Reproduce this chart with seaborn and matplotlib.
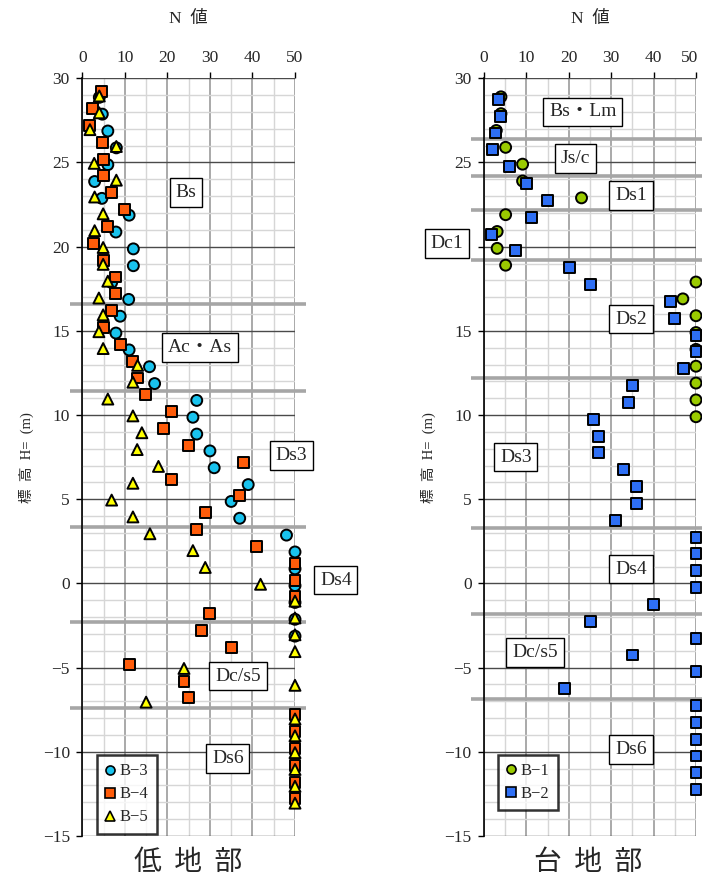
import matplotlib
matplotlib.use("Agg")
import matplotlib.pyplot as plt
import matplotlib.transforms as mtransforms
import numpy as np
import pandas as pd
import seaborn as sns
from matplotlib.ticker import MultipleLocator

# ---------------- data ----------------
# 低地部
b3_elev = [28.87, 27.87, 26.87, 25.87, 24.87, 23.87, 22.87, 21.87, 20.87, 19.87, 18.87, 17.87,
           16.87, 15.87, 14.87, 13.87, 12.87, 11.87, 10.87, 9.87, 8.87, 7.87, 6.87, 5.87, 4.87,
           3.87, 2.87, 1.87, 0.87, -0.13, -1.13, -2.13, -3.13]
b3_n = [4.0, 4.7, 6.0, 8.0, 6.0, 2.9, 4.6, 11.0, 7.9, 12.0, 12.0, 6.9,
        10.9, 8.9, 7.9, 11.0, 15.8, 17.0, 26.9, 26.0, 26.9, 30.0, 31.0, 39.0, 35.0,
        37.0, 48.0, 50, 50, 50, 50, 50, 50]

b4_elev = [29.2, 28.2, 27.2, 26.2, 25.2, 24.2, 23.2, 22.2, 21.2, 20.2, 19.2, 18.2, 17.2, 16.2,
           15.2, 14.2, 13.2, 12.2, 11.2, 10.2, 9.2, 8.2, 7.2, 6.2, 5.2, 4.2, 3.2, 2.2, 1.2, 0.2,
           -0.8, -1.8, -2.8, -3.8, -4.8, -5.8, -6.8, -7.8, -8.8, -9.8, -10.8, -11.8, -12.8]
b4_n = [4.6, 2.4, 1.8, 4.8, 4.9, 4.9, 6.9, 10.0, 6.0, 2.7, 4.9, 7.9, 7.9, 6.9,
        4.9, 8.9, 11.9, 12.9, 14.9, 21.0, 19.0, 24.9, 37.9, 21.0, 36.9, 28.9, 26.9, 41.0, 50, 50,
        50, 30.0, 28.0, 35.0, 11.0, 23.9, 24.9, 50, 50, 50, 50, 50, 50]

b5_elev = [28.95, 27.95, 26.95, 25.95, 24.95, 23.95, 22.95, 21.95, 20.95, 19.95, 18.95, 17.95,
           16.95, 15.95, 14.95, 13.95, 12.95, 11.95, 10.95, 9.95, 8.95, 7.95, 6.95, 5.95, 4.95,
           3.95, 2.95, 1.95, 0.95, -0.05, -1.05, -2.05, -3.05, -4.05, -5.05, -6.05, -7.05,
           -8.05, -9.05, -10.05, -11.05, -12.05, -13.05]
b5_n = [4.0, 4.0, 1.8, 8.0, 2.8, 8.0, 2.9, 4.9, 2.9, 4.9, 4.9, 6.0,
        3.9, 4.9, 3.9, 4.9, 13.0, 11.9, 6.0, 11.9, 14.0, 12.9, 17.9, 11.9, 6.9,
        11.9, 15.9, 26.0, 28.9, 41.9, 50, 50, 50, 50, 23.9, 50, 15.0,
        50, 50, 50, 50, 50, 50]

# 台地部
b1_elev = [28.9, 27.9, 26.9, 25.9, 24.9, 23.9, 22.9, 21.9, 20.9, 19.9, 18.9, 17.9, 16.9, 15.9,
           14.9, 13.9, 12.9, 11.9, 10.9, 9.9]
b1_n = [4.0, 4.0, 2.9, 5.1, 9.1, 9.1, 23.0, 5.1, 3.1, 3.1, 5.1, 50, 46.9, 50,
        50, 50, 50, 50, 50, 50]

b2_elev = [28.75, 27.75, 26.75, 25.75, 24.75, 23.75, 22.75, 21.75, 20.75, 19.75, 18.75, 17.75,
           16.75, 15.75, 14.75, 13.75, 12.75, 11.75, 10.75, 9.75, 8.75, 7.75, 6.75, 5.75, 4.75,
           3.75, 2.75, 1.75, 0.75, -0.25, -1.25, -2.25, -3.25, -4.25, -5.25, -6.25, -7.25,
           -8.25, -9.25, -10.25, -11.25, -12.25]
b2_n = [3.5, 4.0, 2.8, 1.9, 6.0, 10.1, 14.9, 11.1, 1.7, 7.4, 20.1, 25.1,
        43.9, 45.0, 50, 50, 47.0, 35.0, 34.0, 25.9, 27.0, 27.0, 33.0, 36.0, 36.0,
        31.0, 50, 50, 50, 50, 40.0, 25.1, 50, 35.0, 50, 19.0, 50,
        50, 50, 50, 50, 50]

left_layers = [16.6, 11.4, 3.35, -2.3, -7.4]
right_layers = [26.4, 24.2, 22.2, 19.2, 12.2, 3.3, -1.8, -6.85]

left_labels = ["Bs", "Ac・As", "Ds3", "Ds4", "Dc/s5", "Ds6"]
left_label_pos = [(24.4, 23.2), (27.7, 14.0), (49.1, 7.6), (59.6, 0.2), (36.6, -5.5), (34.2, -10.4)]
right_labels = ["Bs・Lm", "Js/c", "Ds1", "Dc1", "Ds2", "Ds3", "Ds4", "Dc/s5", "Ds6"]
right_label_pos = [(23.3, 28.0), (21.5, 25.25), (34.7, 23.05), (-8.7, 20.2), (34.7, 15.7),
                   (7.5, 7.5), (34.7, 0.85), (12.0, -4.1), (34.7, -9.85)]

xticks = [0, 10, 20, 30, 40, 50]
yticks = [30, 25, 20, 15, 10, 5, 0, -5, -10, -15]

# ---------------- style ----------------
sns.set_theme(style="white")
FONT = ["Liberation Serif", "Noto Sans CJK JP", "DejaVu Sans"]
plt.rcParams["font.family"] = FONT
plt.rcParams["axes.unicode_minus"] = True

W, H = 702, 882
fig = plt.figure(figsize=(W / 100, H / 100), dpi=100)
top_px, bot_px = 78.3, 836
axL = fig.add_axes([82.3 / W, 1 - bot_px / H, 212.7 / W, (bot_px - top_px) / H])
axR = fig.add_axes([484 / W, 1 - bot_px / H, 212 / W, (bot_px - top_px) / H])

def setup(ax, hide=None):
    ax.set_xlim(0, 50)
    ax.set_ylim(-15, 30)
    ax.xaxis.set_minor_locator(MultipleLocator(5))
    ax.yaxis.set_minor_locator(MultipleLocator(1))
    ax.set_xticks(xticks)
    ax.set_yticks(yticks)
    ax.set_yticklabels(["" if (hide is not None and v == hide) else str(v).replace("-", "−")
                        for v in yticks])
    ax.xaxis.tick_top()
    ax.xaxis.set_label_position("top")
    ax.tick_params(axis="x", which="major", top=True, bottom=False, direction="out",
                   length=4, width=1, color="black", labelsize=12.5, pad=5)
    ax.tick_params(axis="y", which="major", left=True, direction="out",
                   length=4, width=1, color="black", labelsize=12.5, pad=5)
    ax.tick_params(which="minor", length=0)
    ax.grid(False)
    ax.set_axisbelow(True)
    ax.grid(which="minor", axis="both", color="#d6d6d6", lw=1.0)
    ax.grid(which="major", axis="x", color="#a3a3a3", lw=1.3)
    ax.grid(which="major", axis="y", color="#4a4a4a", lw=1.0)
    for s in ["top", "right", "bottom"]:
        ax.spines[s].set_visible(False)
    ax.spines["left"].set_color("black")
    ax.spines["left"].set_linewidth(1.2)

def layers(ax, levels):
    for y in levels:
        ax.plot([-3, 52.6], [y, y], color="#a6a6a6", lw=2.6, clip_on=False, zorder=2,
                solid_capstyle="butt")

def labels(ax, texts, pos):
    for t, (x, y) in zip(texts, pos):
        ax.text(x, y, t, fontsize=14, ha="center", va="center", zorder=5, clip_on=False,
                bbox=dict(boxstyle="square,pad=0.3", fc="white", ec="black", lw=1.0))

setup(axL)
setup(axR, hide=20)
layers(axL, left_layers)
layers(axR, right_layers)
labels(axL, left_labels, left_label_pos)
labels(axR, right_labels, right_label_pos)

dfL = pd.concat([
    pd.DataFrame({"N": b3_n, "elev": b3_elev, "boring": "B−3"}),
    pd.DataFrame({"N": b4_n, "elev": b4_elev, "boring": "B−4"}),
    pd.DataFrame({"N": b5_n, "elev": b5_elev, "boring": "B−5"}),
], ignore_index=True)
dfR = pd.concat([
    pd.DataFrame({"N": b1_n, "elev": b1_elev, "boring": "B−1"}),
    pd.DataFrame({"N": b2_n, "elev": b2_elev, "boring": "B−2"}),
], ignore_index=True)

palL = {"B−3": "#19c3ee", "B−4": "#ff5c0a", "B−5": "#ffff00"}
mkL = {"B−3": "o", "B−4": "s", "B−5": "^"}
palR = {"B−1": "#9acb00", "B−2": "#2e6ff5"}
mkR = {"B−1": "o", "B−2": "s"}

sns.scatterplot(data=dfL, x="N", y="elev", hue="boring", style="boring", palette=palL,
                markers=mkL, s=62, edgecolor="black", linewidth=1.4, ax=axL, zorder=4)
sns.scatterplot(data=dfR, x="N", y="elev", hue="boring", style="boring", palette=palR,
                markers=mkR, s=62, edgecolor="black", linewidth=1.4, ax=axR, zorder=4)
for ax in (axL, axR):
    for c in ax.collections:
        c.set_clip_on(False)
    ax.set_xlabel("N  値", fontsize=12.5, labelpad=19)
    ax.set_ylabel("標  高  H=  (m)", fontsize=10.5, labelpad=6)

# shift the right panel's last top tick label slightly left so it stays inside the figure
lab = axR.get_xticklabels()[-1]
lab.set_transform(lab.get_transform() + mtransforms.ScaledTranslation(-6 / 100, 0, fig.dpi_scale_trans))

def legend(ax, anchor):
    h, l = ax.get_legend_handles_labels()
    for hh in h:
        hh.set_markersize(6.5)
        hh.set_markeredgewidth(1.2)
        hh.set_markeredgecolor("black")
    leg = ax.legend(h, l, loc="lower left", bbox_to_anchor=anchor, frameon=True,
                    fancybox=False, edgecolor="black", fontsize=12, handlelength=0.6,
                    handletextpad=0.25, labelspacing=0.42, borderpad=0.5,
                    borderaxespad=0)
    leg.get_frame().set_linewidth(1.8)
    leg.set_zorder(6)

legend(axL, (0.069, 0.003))
legend(axR, (0.066, 0.034))

fig.text(188 / W, 1 - 862 / H, "低  地  部", fontsize=20, ha="center", va="center",
         family=["Noto Sans CJK JP"])
fig.text(588 / W, 1 - 862 / H, "台  地  部", fontsize=20, ha="center", va="center",
         family=["Noto Sans CJK JP"])

fig.savefig("out.png", dpi=100)
